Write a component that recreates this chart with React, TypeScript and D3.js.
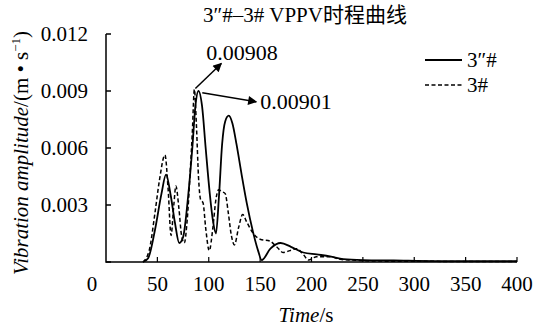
import React from 'react';
import * as d3 from 'd3';

// 3″# series (solid)
const time3pp = [36, 41, 47.7, 54, 58.4, 63, 67, 71.3, 75, 80, 84, 87, 90, 93.5, 97, 101, 104, 107, 110, 113, 116, 119.5, 123, 127, 132, 137, 143, 148, 151.5, 160, 170, 180, 192, 205, 218, 231, 250, 280, 320, 360, 400];
const amp3pp = [0, 0.0002, 0.0017, 0.0036, 0.0046, 0.0035, 0.0021, 0.001, 0.0013, 0.0035, 0.006, 0.0082, 0.00901, 0.0082, 0.006, 0.0036, 0.0022, 0.0015, 0.0035, 0.0062, 0.0074, 0.0077, 0.0073, 0.0062, 0.0046, 0.0031, 0.0016, 0.0006, 0.0001, 0.0007, 0.001, 0.0008, 0.0005, 0.0004, 0.0003, 0.00015, 0.0001, 0.00008, 0.00005, 0.00005, 0.00005];

// 3# series (dashed)
const time3 = [36, 42, 47.7, 52, 57.4, 60.5, 63.3, 66, 68, 71, 73.5, 76.2, 79, 82, 84, 86, 88, 90, 92, 94.5, 97, 100.5, 104, 107, 109.5, 113, 116, 119, 122, 125, 129, 133, 137, 143.4, 150, 159.6, 166, 172.6, 179, 185.6, 192, 197, 205, 218, 228, 240, 260, 300, 340, 400];
const amp3 = [0, 0.0006, 0.0026, 0.0043, 0.00563, 0.0038, 0.0014, 0.003, 0.004, 0.0028, 0.0014, 0.001, 0.0022, 0.0048, 0.0068, 0.00908, 0.0072, 0.0045, 0.0033, 0.0031, 0.0018, 0.0006, 0.0018, 0.0033, 0.0038, 0.0037, 0.0036, 0.0026, 0.0014, 0.0009, 0.0018, 0.0025, 0.0021, 0.0015, 0.0012, 0.0011, 0.0008, 0.0005, 0.0006, 0.0007, 0.0004, 0.0001, 0.00028, 0.00028, 0.00014, 0.0001, 0.00005, 0.00004, 0.00003, 0.00003];

const xTicks = [0, 50, 100, 150, 200, 250, 300, 350, 400];
const yTicks = [0.003, 0.006, 0.009, 0.012];
const yTickLabels = ['0.003', '0.006', '0.009', '0.012'];

const peakTimes = [86, 89.8];
const peakValues = [0.00908, 0.00901];
const peakLabels = ['0.00908', '0.00901'];

const serif = "'Liberation Serif', 'Noto Sans CJK SC', serif";

export default function App() {
  const x = d3.scaleLinear().domain([0, 400]).range([106, 517]);
  const y = d3.scaleLinear().domain([0, 0.012]).range([262, 34]);

  const line = d3.line<[number, number]>()
    .x(d => x(d[0]))
    .y(d => y(d[1]))
    .curve(d3.curveMonotoneX);

  const solid = line(time3pp.map((t, i) => [t, amp3pp[i]]));
  const dashed = line(time3.map((t, i) => [t, amp3[i]]));

  // arrow offsets relative to the peak
  const arrowStart = [[1, -1], [4, 2]];
  const arrowEnd = [[27, -26], [58, 11]];
  const labelPos = [[12, -29], [62, 18]];

  const txt = { fontFamily: serif };

  return (
    <svg width={534} height={326} style={{ position: 'absolute', left: 0, top: 0, background: '#fff' }}>
      <defs>
        <marker id="ah" viewBox="0 0 10 10" refX="9" refY="5" markerWidth="11" markerHeight="9" markerUnits="userSpaceOnUse" orient="auto">
          <path d="M0,0 L10,5 L0,10 z" fill="#000" />
        </marker>
      </defs>

      <text x={305} y={22} textAnchor="middle" fontSize={21} style={txt}>3″#–3# VPPV时程曲线</text>

      {/* axes */}
      <path d={`M${x(0)},${y(0.012)} V${y(0)} H${x(400)}`} fill="none" stroke="#000" strokeWidth={1.5} />
      {[0, ...yTicks].map(t => (
        <line key={'yt' + t} x1={x(0)} x2={x(0) + 5} y1={y(t)} y2={y(t)} stroke="#000" strokeWidth={1.5} />
      ))}
      {xTicks.slice(1).map(t => (
        <line key={'xt' + t} x1={x(t)} x2={x(t)} y1={y(0)} y2={y(0) - 5} stroke="#000" strokeWidth={1.2} />
      ))}
      {yTicks.map((t, i) => (
        <text key={'yl' + t} x={88} y={y(t)} dy="0.35em" textAnchor="end" fontSize={21} style={txt}>{yTickLabels[i]}</text>
      ))}
      {xTicks.map(t => (
        <text key={'xl' + t} x={t === 0 ? 92 : x(t)} y={291} textAnchor="middle" fontSize={21} style={txt}>{t}</text>
      ))}

      <text x={306} y={322} textAnchor="middle" fontSize={21} style={txt}>
        <tspan fontStyle="italic">Time</tspan>/s
      </text>
      <text transform="translate(28,153) rotate(-90)" textAnchor="middle" fontSize={21} style={txt}>
        <tspan fontStyle="italic">Vibration amplitude</tspan>/(m • s<tspan fontSize={13} dy={-8}>−1</tspan><tspan dy={8}>)</tspan>
      </text>

      {/* series */}
      <path d={dashed ?? ''} fill="none" stroke="#000" strokeWidth={1.5} strokeDasharray="4,2.5" />
      <path d={solid ?? ''} fill="none" stroke="#000" strokeWidth={1.8} />

      {/* peak annotations */}
      {peakTimes.map((t, i) => {
        const px = x(t);
        const py = y(peakValues[i]);
        return (
          <g key={'pk' + i}>
            <line x1={px + arrowStart[i][0]} y1={py + arrowStart[i][1]} x2={px + arrowEnd[i][0]} y2={py + arrowEnd[i][1]}
              stroke="#000" strokeWidth={1.5} markerEnd="url(#ah)" />
            <text x={px + labelPos[i][0]} y={py + labelPos[i][1]} fontSize={22} style={txt}>{peakLabels[i]}</text>
          </g>
        );
      })}

      {/* legend */}
      <line x1={425} x2={462} y1={60} y2={60} stroke="#000" strokeWidth={1.8} />
      <text x={467} y={67} fontSize={21} style={txt}>3″#</text>
      <line x1={425} x2={462} y1={85} y2={85} stroke="#000" strokeWidth={1.5} strokeDasharray="4,2.5" />
      <text x={467} y={92} fontSize={21} style={txt}>3#</text>
    </svg>
  );
}
